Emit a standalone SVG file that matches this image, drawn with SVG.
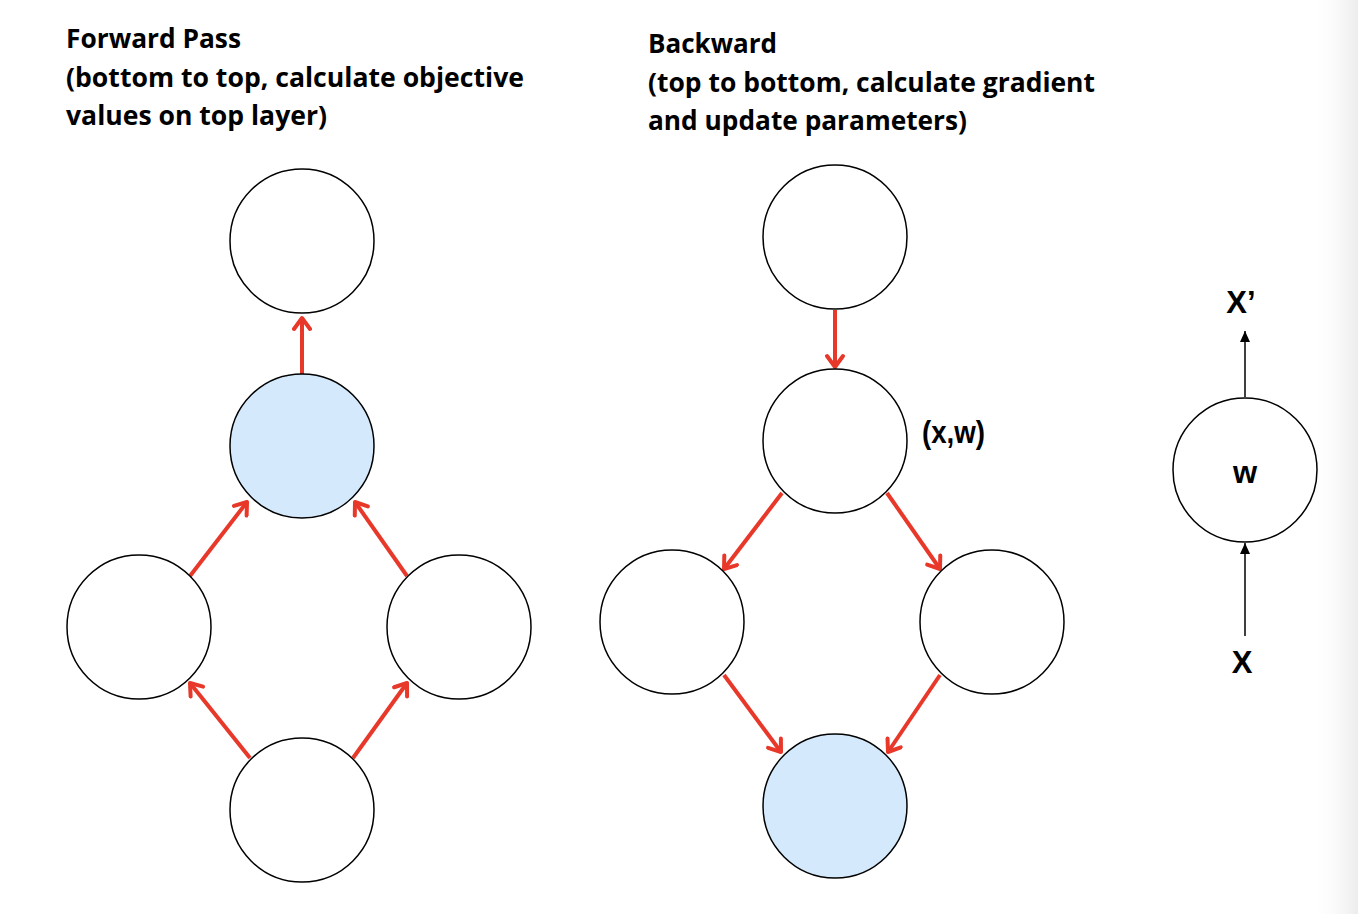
<svg xmlns="http://www.w3.org/2000/svg" width="1358" height="914" viewBox="0 0 1358 914">
<defs>
<linearGradient id="edge" x1="0" y1="0" x2="1" y2="0">
<stop offset="0" stop-color="#ffffff" stop-opacity="0"/>
<stop offset="1" stop-color="#ececec" stop-opacity="1"/>
</linearGradient>
<marker id="red" viewBox="0 0 20 20" refX="15" refY="10" markerWidth="20" markerHeight="20" markerUnits="userSpaceOnUse" orient="auto">
<path d="M4,2 L15,10 L4,18" fill="none" stroke="#e8382a" stroke-width="4" stroke-linecap="round" stroke-linejoin="round"/>
</marker>
<marker id="blk" viewBox="0 0 12 12" refX="11" refY="6" markerWidth="12" markerHeight="12" markerUnits="userSpaceOnUse" orient="auto">
<path d="M0,1 L11,6 L0,11 Z" fill="#000"/>
</marker>
</defs>
<style>
.n{fill:#fff;stroke:#000;stroke-width:1.5}
.b{fill:#d4eafc;stroke:#000;stroke-width:1.5}
.r{stroke:#e8382a;stroke-width:4;fill:none;marker-end:url(#red)}
.k{stroke:#000;stroke-width:1.5;fill:none;marker-end:url(#blk)}
.t{font-family:"Open Sans","Liberation Sans",sans-serif;font-weight:bold;font-size:26px;fill:#000}
.l{font-family:"Liberation Sans",Arial,sans-serif;font-weight:bold;font-size:31px;fill:#000}
</style>
<rect width="1358" height="914" fill="#fff"/>
<rect x="1310" y="0" width="48" height="914" fill="url(#edge)"/>
<g id="titles">
<text class="t" x="66" y="48" textLength="175" lengthAdjust="spacingAndGlyphs">Forward Pass</text>
<text class="t" x="66" y="87" textLength="458" lengthAdjust="spacingAndGlyphs">(bottom to top, calculate objective</text>
<text class="t" x="66" y="125" textLength="261" lengthAdjust="spacingAndGlyphs">values on top layer)</text>
<text class="t" x="648" y="53" textLength="129" lengthAdjust="spacingAndGlyphs">Backward</text>
<text class="t" x="648" y="92" textLength="447" lengthAdjust="spacingAndGlyphs">(top to bottom, calculate gradient</text>
<text class="t" x="648" y="130" textLength="319" lengthAdjust="spacingAndGlyphs">and update parameters)</text>
</g>
<g id="connectors">
<line class="r" x1="302" y1="374" x2="302" y2="318"/>
<line class="r" x1="190" y1="576" x2="247" y2="502"/>
<line class="r" x1="407" y1="576" x2="355" y2="502"/>
<line class="r" x1="250" y1="758" x2="190" y2="683"/>
<line class="r" x1="353" y1="758" x2="407" y2="683"/>
<line class="r" x1="835" y1="310" x2="835" y2="367"/>
<line class="r" x1="782" y1="493" x2="724" y2="569"/>
<line class="r" x1="887" y1="493" x2="940" y2="569"/>
<line class="r" x1="724" y1="675" x2="781" y2="752"/>
<line class="r" x1="940" y1="675" x2="888" y2="752"/>
<line class="k" x1="1245" y1="397" x2="1245" y2="331"/>
<line class="k" x1="1245" y1="636" x2="1245" y2="543"/>
</g>
<g id="f-top"><circle class="n" cx="302" cy="241" r="72"/></g>
<g id="f-mid"><circle class="b" cx="302" cy="446" r="72"/></g>
<g id="f-left"><circle class="n" cx="139" cy="627" r="72"/></g>
<g id="f-right"><circle class="n" cx="459" cy="627" r="72"/></g>
<g id="f-bottom"><circle class="n" cx="302" cy="810" r="72"/></g>
<g id="b-top"><circle class="n" cx="835" cy="237" r="72"/></g>
<g id="b-mid"><circle class="n" cx="835" cy="441" r="72"/><text class="l" x="922" y="443" font-size="28" textLength="63" lengthAdjust="spacingAndGlyphs">(x,w)</text></g>
<g id="b-left"><circle class="n" cx="672" cy="622" r="72"/></g>
<g id="b-right"><circle class="n" cx="992" cy="622" r="72"/></g>
<g id="b-bottom"><circle class="b" cx="835" cy="806" r="72"/></g>
<g id="w-node"><circle class="n" cx="1245" cy="470" r="72"/><text class="l" x="1245" y="483" text-anchor="middle">w</text></g>
<g id="x-prime"><text class="l" x="1241" y="313" text-anchor="middle">X’</text></g>
<g id="x-in"><text class="l" x="1242" y="673" text-anchor="middle">X</text></g>
</svg>
